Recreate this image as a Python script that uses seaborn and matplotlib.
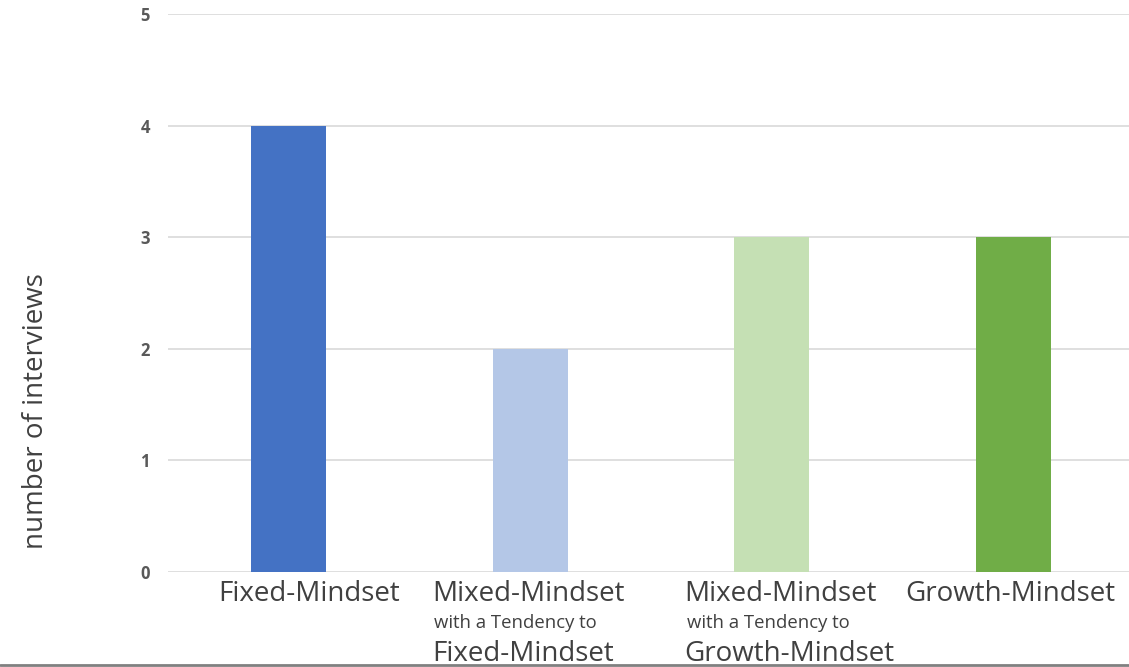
import matplotlib
matplotlib.use("Agg")
import matplotlib.pyplot as plt
import seaborn as sns
import pandas as pd
from matplotlib.lines import Line2D
from matplotlib.transforms import offset_copy

categories = ["Fixed-Mindset", "Mixed-Mindset (fixed)", "Mixed-Mindset (growth)", "Growth-Mindset"]
main_labels = ["Fixed-Mindset", "Mixed-Mindset", "Mixed-Mindset", "Growth-Mindset"]
sub_labels = ["", "with a Tendency to", "with a Tendency to", ""]
third_labels = ["", "Fixed-Mindset", "Growth-Mindset", ""]
values = [4, 2, 3, 3]
colors = ["#4472C4", "#B4C7E7", "#C5E0B4", "#70AD47"]
y_ticks = [0, 1, 2, 3, 4, 5]
y_label = "number of interviews"
label_dx_px = [20, -2, 9, -3]

sns.set_theme(style="white")
plt.rcParams["font.family"] = ["Open Sans", "DejaVu Sans"]

W, H, DPI = 1129, 667, 100
fig = plt.figure(figsize=(W / DPI, H / DPI), dpi=DPI)
ax = fig.add_axes([168 / W, 1 - 572 / H, (1134 - 168) / W, (572 - 14) / H])

df = pd.DataFrame({"category": categories, "value": values})
sns.barplot(data=df, x="category", y="value", hue="category", palette=colors,
            order=categories, hue_order=categories, legend=False, width=0.31,
            saturation=1, linewidth=0, ax=ax, zorder=3)

ax.set_xlim(-0.5, 3.5)
ax.set_ylim(0, 5)
ax.set_yticks(y_ticks)
ax.set_yticklabels([str(t) for t in y_ticks], fontsize=12, fontweight="bold", color="#595959")
ax.tick_params(axis="y", length=0, pad=13)
ax.yaxis.grid(True, color="#D9D9D9", linewidth=1.2, zorder=0)
ax.xaxis.grid(False)
for s in ax.spines.values():
    s.set_visible(False)
ax.set_xlabel("")
ax.set_ylabel("")
ax.set_xticks(range(len(categories)))
ax.set_xticklabels([""] * len(categories))
ax.tick_params(axis="x", length=0)

fig.text(36 / W, 1 - 411 / H, y_label, rotation=90, ha="center", va="center",
         fontsize=20, color="#404040")

xt = ax.get_xaxis_transform()
mains = []
for i, lab in enumerate(main_labels):
    tr = offset_copy(xt, fig=fig, x=label_dx_px[i], y=0, units="dots")
    t = ax.text(i, -0.014, lab, transform=tr, ha="center", va="top", fontsize=20, color="#404040")
    mains.append(t)

fig.canvas.draw()
r = fig.canvas.get_renderer()
for i in range(len(categories)):
    if sub_labels[i]:
        bb = mains[i].get_window_extent(r)
        x_left = ax.transData.inverted().transform((bb.x0, 0))[0]
        ax.text(x_left + 0.01, -0.075, sub_labels[i], transform=xt, ha="left", va="top",
                fontsize=13.3, color="#404040")
        ax.text(x_left, -0.121, third_labels[i], transform=xt, ha="left", va="top",
                fontsize=20, color="#404040")

fig.add_artist(Line2D([0, 1], [1 - 665 / H, 1 - 665 / H], transform=fig.transFigure,
                      color="#808080", linewidth=2, zorder=10))

fig.savefig("out.png", dpi=DPI)
